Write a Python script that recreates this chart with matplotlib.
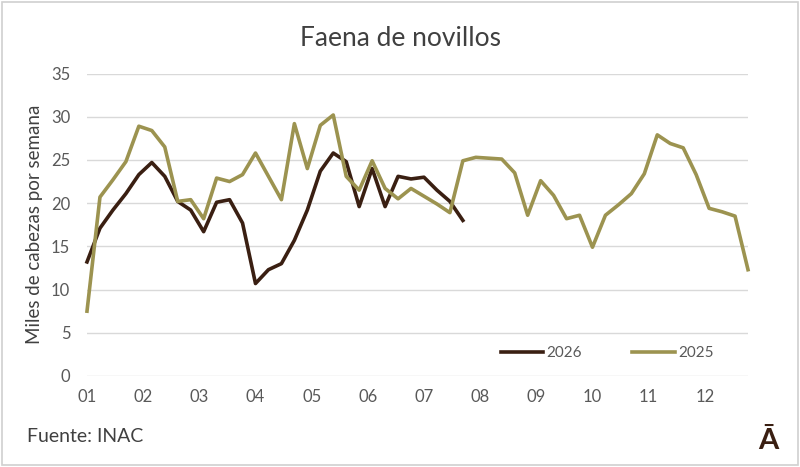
import matplotlib.pyplot as plt
from matplotlib.patches import Rectangle

plt.rcParams['font.family'] = ['Lato', 'DejaVu Sans']

months = ['01', '02', '03', '04', '05', '06', '07', '08', '09', '10', '11', '12']

# faena semanal (miles de cabezas)
serie_2025 = [7.5, 20.7, 22.7, 24.8, 28.9, 28.4, 26.5, 20.2, 20.4, 18.2,
              22.9, 22.5, 23.3, 25.8, 23.1, 20.4, 29.2, 24.0, 29.0, 30.2,
              23.1, 21.5, 24.9, 21.7, 20.5, 21.7, 20.8, 19.9, 18.9, 24.9,
              25.3, 25.2, 25.1, 23.5, 18.6, 22.6, 20.9, 18.2, 18.6, 14.9,
              18.6, 19.8, 21.1, 23.4, 27.9, 26.9, 26.4, 23.3, 19.4, 19.0,
              18.5, 12.3]
serie_2026 = [13.2, 17.1, 19.2, 21.1, 23.3, 24.7, 23.1, 20.2, 19.2, 16.7,
              20.1, 20.4, 17.7, 10.7, 12.3, 13.0, 15.7, 19.2, 23.7, 25.8,
              24.8, 19.6, 24.0, 19.6, 23.1, 22.8, 23.0, 21.5, 20.2, 18.0]

c_2026 = '#3a1f12'
c_2025 = '#9c9350'
txt = '#595959'

fig = plt.figure(figsize=(8, 4.67), dpi=100)
ax = fig.add_axes([87 / 800, 1 - 376 / 467, (748 - 87) / 800, (376 - 73.5) / 467])

ax.plot(range(len(serie_2026)), serie_2026, color=c_2026, lw=2.6, label='2026',
        solid_joinstyle='round', clip_on=False)
ax.plot(range(len(serie_2025)), serie_2025, color=c_2025, lw=2.6, label='2025',
        solid_joinstyle='round', clip_on=False)

ax.set_xlim(0, len(serie_2025) - 1)
ax.set_ylim(0, 35)
ax.set_yticks(range(0, 36, 5))
ax.set_xticks([i * 52 / 12 for i in range(12)])
ax.set_xticklabels(months)
ax.grid(axis='y', color='#d9d9d9', lw=1)
ax.set_axisbelow(True)
for s in ax.spines.values():
    s.set_visible(False)
ax.tick_params(length=0, labelsize=12, colors=txt, pad=9)
ax.tick_params(axis='y', pad=12)
ax.set_ylabel('Miles de cabezas por semana', fontsize=13.5, color='#404040', labelpad=6)

leg = ax.legend(ncol=2, loc='center', bbox_to_anchor=(0.787, 0.075), frameon=False,
                handlelength=2.8, handletextpad=0.2, columnspacing=3.3, fontsize=11)
for t in leg.get_texts():
    t.set_color(txt)

fig.text(0.5, 1 - 38 / 467, 'Faena de novillos', ha='center', va='center',
         fontsize=19, color='#404040')
fig.text(27 / 800, 1 - 437 / 467, 'Fuente: INAC', ha='left', va='center',
         fontsize=14, color='#404040')
fig.text(768 / 800, 1 - 441 / 467, 'Ā', ha='center', va='center', fontsize=21,
         fontweight='bold', color='#3a1f12')

fig.patches.append(Rectangle((0.003, 0.004), 0.994, 0.992, transform=fig.transFigure,
                             fill=False, edgecolor='#d0d0d0', lw=1.2))

fig.savefig('out.png', dpi=100)
